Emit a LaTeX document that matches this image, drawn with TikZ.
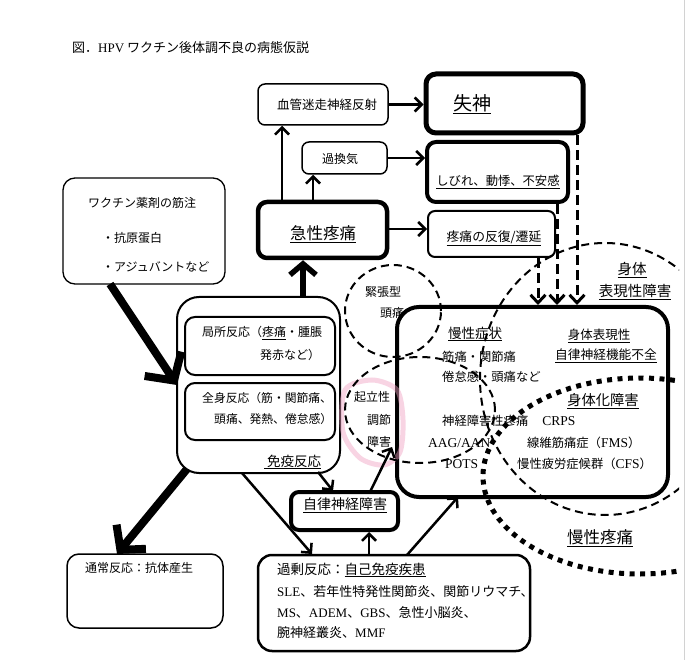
\documentclass[tikz,border=0pt]{standalone}
\usepackage{fontspec}
\setmainfont{Noto Sans CJK JP}
\newfontfamily\lat{Liberation Serif}
\usetikzlibrary{arrows.meta}
\newcommand\fsz[1]{\fontsize{#1}{#1}\selectfont}
\begin{document}
\begin{tikzpicture}[x=1pt,y=-1pt,
  box/.style={draw, rounded corners=7pt, line width=1.5pt, inner sep=0pt},
  t/.style={inner sep=0pt, font=\fsz{12}},
  arr/.style={line width=2.5pt, -{Straight Barb[length=7pt,width=14pt]}},
  darr/.style={line width=3pt, dash pattern=on 10pt off 5pt, -{Straight Barb[length=8pt,width=15pt]}},
  fatarr/.style={line width=8pt, -{Straight Barb[length=20pt,width=44pt]}},
  midarr/.style={line width=5.5pt, -{Straight Barb[length=11pt,width=26pt]}},
  dashell/.style={line width=2pt, dash pattern=on 8pt off 5pt},
  dotell/.style={line width=5pt, dash pattern=on 5pt off 5.5pt},
]
\useasboundingbox (0,0) rectangle (688,660);
\fill[white] (0,0) rectangle (688,660);
\draw[gray!35, line width=1pt] (684,0) -- (684,660);

% title
\node[t, font=\fsz{13}, anchor=west] (title) at (72,48) {図．{\lat HPV} ワクチン後体調不良の病態仮説};

% boxes
\node[box, minimum width=130pt, minimum height=41pt] (vaso) at (323,104.5) {};
\node[box, line width=5pt, rounded corners=10pt, minimum width=157pt, minimum height=59pt] (syncope) at (504.5,103.5) {};
\node[box, minimum width=85pt, minimum height=32pt] (hyper) at (344.5,158) {};
\node[box, line width=4pt, rounded corners=9pt, minimum width=141pt, minimum height=60pt] (numb) at (497.5,172) {};
\node[box, line width=4.5pt, rounded corners=9pt, minimum width=129pt, minimum height=56pt] (acute) at (322.5,230) {};
\node[box, line width=2pt, minimum width=127pt, minimum height=46pt] (repeat) at (491.5,234) {};
\node[box, line width=1.3pt, rounded corners=12pt, minimum width=162pt, minimum height=106pt] (vaccine) at (144,231) {};
\node[box, line width=2pt, rounded corners=22pt, minimum width=163pt, minimum height=176pt] (immune) at (258.5,385) {};
\node[box, line width=2pt, rounded corners=10pt, minimum width=150pt, minimum height=58pt] (local) at (260,346) {};
\node[box, line width=2pt, rounded corners=10pt, minimum width=150pt, minimum height=57pt] (whole) at (260,411.5) {};
\node[box, line width=4pt, rounded corners=8pt, minimum width=107pt, minimum height=38pt] (ans) at (344.5,511) {};
\node[box, rounded corners=12pt, minimum width=156pt, minimum height=74pt] (normal) at (145,591) {};
\node[box, line width=2.5pt, rounded corners=14pt, minimum width=272pt, minimum height=96pt] (excess) at (394,603) {};
\node[box, line width=4pt, rounded corners=22pt, minimum width=271pt, minimum height=190pt] (chronic) at (532.5,402) {};

% ellipses and highlight
\draw[line width=5pt, opacity=0.45, color={rgb,255:red,240;green,160;blue,195}]
  plot[smooth cycle] coordinates {(345,390) (372,380) (397,390) (403,420) (400,452) (384,465) (360,458) (343,432)};
\begin{scope}
\clip (0,0) rectangle (679,660);
\draw[dashell] (393,311) ellipse [x radius=48pt, y radius=46pt];
\draw[dashell] (420,410) ellipse [x radius=75pt, y radius=53pt];
\draw[dashell] (605,379) ellipse [x radius=125pt, y radius=136pt];
\draw[dotell] (640,476) ellipse [x radius=157pt, y radius=98pt];
\end{scope}
\coordinate (orth) at (392,447);

% texts
\node[t, font=\fsz{12.5}] (tvaso) at (327,105) {血管迷走神経反射};
\node[t, font=\fsz{19}] (tsync) at (472,104) {\underline{失神}};
\node[t] (thyper) at (340,159) {過換気};
\node[t, font=\fsz{12.3}] (tnumb) at (498,182) {\underline{しびれ、動悸、不安感}};
\node[t, font=\fsz{16.5}] (tacute) at (323,234) {\underline{急性疼痛}};
\node[t, font=\fsz{12.8}] (trep) at (494,238) {\underline{疼痛の反復/遷延}};

\node[t, anchor=west] (tvac1) at (88,203) {ワクチン薬剤の筋注};
\node[t, anchor=west] (tvac2) at (102,238) {・抗原蛋白};
\node[t, anchor=west] (tvac3) at (102,267) {・アジュバントなど};

\node[t, anchor=west] (tloc1) at (202,333) {局所反応（\underline{疼痛}・腫脹};
\node[t, anchor=west] (tloc2) at (260,355) {発赤など）};
\node[t, font=\fsz{11.8}, anchor=west] (twh1) at (202,398) {全身反応（筋・関節痛、};
\node[t, font=\fsz{11.8}, anchor=west] (twh2) at (214,419) {頭痛、発熱、倦怠感）};
\node[t, font=\fsz{13.5}, anchor=west] (timm) at (264,462) {\underline{\hspace{3pt}免疫反応}};

\node[t, font=\fsz{14}] (tans) at (345,505) {\underline{自律神経障害}};
\node[t, anchor=west] (tnorm) at (85,568) {通常反応：抗体産生};
\node[t, font=\fsz{13.5}, anchor=west] (tex1) at (277,570) {過剰反応：\underline{自己免疫疾患}};
\node[t, font=\fsz{13}, anchor=west] (tex2) at (277,592) {{\lat SLE}、若年性特発性関節炎、関節リウマチ、};
\node[t, font=\fsz{13}, anchor=west] (tex3) at (277,613) {{\lat MS}、{\lat ADEM}、{\lat GBS}、急性小脳炎、};
\node[t, font=\fsz{13}, anchor=west] (tex4) at (277,633) {腕神経叢炎、{\lat MMF}};

\node[t] (ttens1) at (383,292) {緊張型};
\node[t] (ttens2) at (392,313) {頭痛};
\node[t] (torth1) at (372,397) {起立性};
\node[t] (torth2) at (379,420) {調節};
\node[t] (torth3) at (379,442) {障害};

\node[t, font=\fsz{14.5}] (tsom1) at (632,270) {\underline{身体}};
\node[t, font=\fsz{14.5}] (tsom2) at (635,292) {\underline{表現性障害}};
\node[t, font=\fsz{16.5}] (tpain) at (600,538) {\underline{慢性疼痛}};

\node[t, font=\fsz{13.5}] (tchr) at (475,334) {\underline{慢性症状}};
\node[t, font=\fsz{12.3}, anchor=west] (tchr1) at (442,357) {筋痛・関節痛};
\node[t, font=\fsz{12.3}, anchor=west] (tchr2) at (442,377) {倦怠感・頭痛など};
\node[t, font=\fsz{12.5}] (tsr1) at (599,336) {\underline{身体表現性}};
\node[t, font=\fsz{12.7}] (tsr2) at (606,356) {\underline{自律神経機能不全}};
\node[t, font=\fsz{14.3}] (tsomz) at (603,401) {\underline{身体化障害}};
\node[t, font=\fsz{12.3}, anchor=west] (tneu) at (442,421) {神経障害性疼痛\hspace{14pt}{\lat\fsz{13.5}CRPS}};
\node[t, font=\fsz{13.5}, anchor=west] (taag) at (428,443) {\lat AAG/AAN};
\node[t, font=\fsz{12.3}, anchor=west] (tfms) at (527,443) {線維筋痛症（{\lat\fsz{13.5}FMS}）};
\node[t, font=\fsz{13.5}, anchor=west] (tpots) at (445,464) {\lat POTS};
\node[t, font=\fsz{12.3}, anchor=west] (tcfs) at (517,464) {慢性疲労症候群（{\lat\fsz{13.5}CFS}）};

% helper coordinates
\coordinate (x1) at (282,0);
\coordinate (x2) at (313,0);
\coordinate (y3) at (0,229);
\coordinate (d1) at (538,0);
\coordinate (d2) at (557,0);
\coordinate (d3) at (577,0);
\coordinate (xu) at (303,0);
\coordinate (x14) at (369,0);

% connectors
\draw[arr] (acute.north -| x1) -- (vaso.south -| x1);
\draw[arr] (acute.north -| x2) -- (hyper.south -| x2);
\draw[arr] (acute.east |- y3) -- (repeat.west |- y3);
\draw[arr] (vaso.east) -- (syncope.west |- vaso.east);
\draw[arr] (hyper.east) -- (numb.west |- hyper.east);
\draw[darr] (repeat.south -| d1) -- (chronic.north -| d1);
\draw[darr] (numb.south -| d2) -- (chronic.north -| d2);
\draw[darr] (syncope.south -| d3) -- (chronic.north -| d3);

\coordinate (vs) at (110,284);
\coordinate (iw) at (177,385);
\draw[fatarr] (vs) -- (iw);
\draw[midarr] (immune.north -| xu) -- (acute.south -| xu);
\coordinate (ibl) at (187,469);
\coordinate (nn) at (117,554);
\draw[fatarr, -{Straight Barb[length=17pt,width=38pt]}] (ibl) -- (nn);
\coordinate (ib1) at (318,472);
\coordinate (an1) at (333,491);
\draw[arr] (ib1) -- (an1);
\coordinate (ib2) at (242,473);
\coordinate (ex1) at (312,554);
\draw[arr] (ib2) -- (ex1);
\draw[arr] (excess.north -| x14) -- (ans.south -| x14);
\coordinate (ex2) at (407,555);
\coordinate (ch1) at (458,497);
\draw[arr] (ex2) -- (ch1);
\coordinate (an2) at (370,492);
\draw[arr] (an2) -- (orth);
\end{tikzpicture}
\end{document}
